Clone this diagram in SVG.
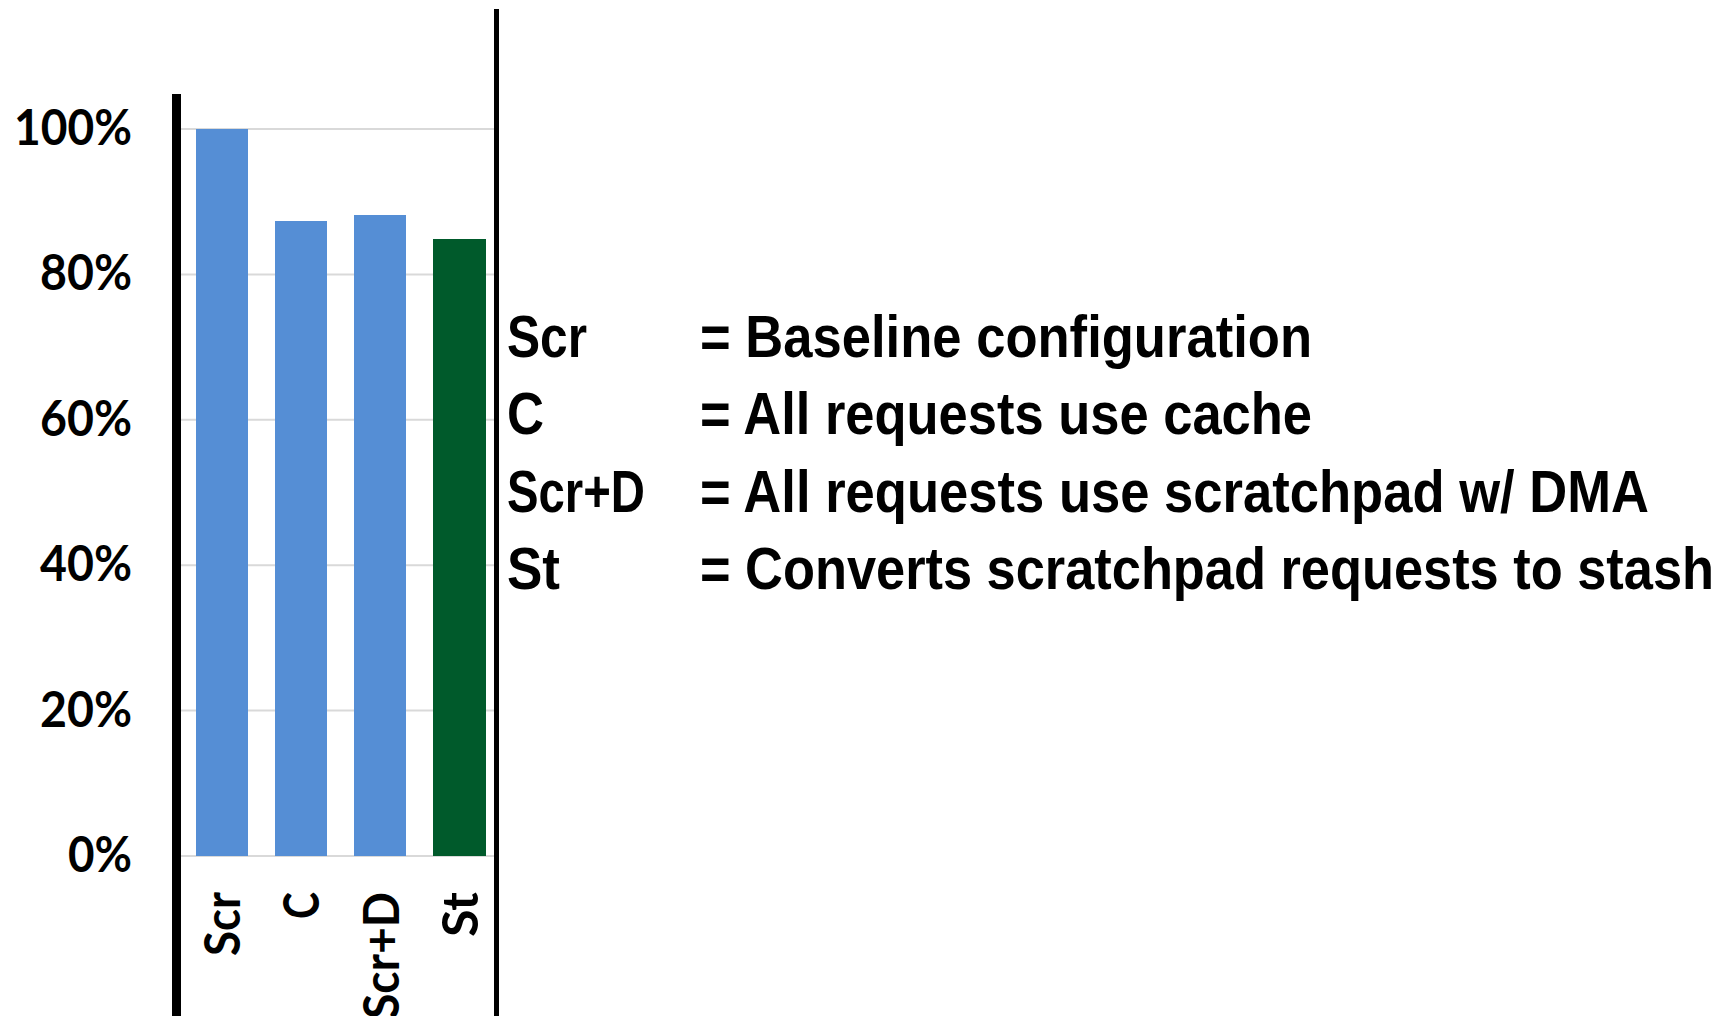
<svg xmlns="http://www.w3.org/2000/svg" width="1721" height="1016" viewBox="0 0 1721 1016">
<style>
.grid{stroke:#d9d9d9;stroke-width:2;fill:none}
.axis{fill:#000}
.blue{fill:#558ed5}
.green{fill:#005a2b}
.tick{font-family:Lato,"Open Sans","Liberation Sans",sans-serif;font-weight:700;font-size:49px;fill:#000}
.ylab{text-anchor:end}
.xlab{text-anchor:end}
.leg{font-family:"Liberation Sans Narrow","Liberation Sans",Arial,sans-serif;font-weight:700;font-size:60px;fill:#000}
</style>
<rect width="1721" height="1016" fill="#fff"/>
<g id="gridlines">
<line class="grid" x1="181" y1="129" x2="494" y2="129"/>
<line class="grid" x1="181" y1="274.4" x2="494" y2="274.4"/>
<line class="grid" x1="181" y1="419.8" x2="494" y2="419.8"/>
<line class="grid" x1="181" y1="565.2" x2="494" y2="565.2"/>
<line class="grid" x1="181" y1="710.6" x2="494" y2="710.6"/>
<line class="grid" x1="181" y1="856" x2="494" y2="856"/>
</g>
<g id="bars">
<rect id="bar-scr" class="blue" x="196" y="129" width="52" height="727"/>
<rect id="bar-c" class="blue" x="275" y="221" width="52" height="635"/>
<rect id="bar-scrd" class="blue" x="354" y="215" width="52" height="641"/>
<rect id="bar-st" class="green" x="433" y="239" width="53" height="617"/>
</g>
<g id="axes">
<rect class="axis" x="172" y="94" width="9" height="922"/>
<rect class="axis" x="494" y="9" width="5" height="1007"/>
</g>
<g id="y-labels" class="tick ylab">
<text x="132" y="145" textLength="118" lengthAdjust="spacingAndGlyphs">100%</text>
<text x="132" y="290.4" textLength="92" lengthAdjust="spacingAndGlyphs">80%</text>
<text x="132" y="435.8" textLength="92" lengthAdjust="spacingAndGlyphs">60%</text>
<text x="132" y="581.2" textLength="92" lengthAdjust="spacingAndGlyphs">40%</text>
<text x="132" y="726.6" textLength="92" lengthAdjust="spacingAndGlyphs">20%</text>
<text x="132" y="872" textLength="64" lengthAdjust="spacingAndGlyphs">0%</text>
</g>
<g id="x-labels" class="tick xlab">
<text transform="translate(240,892) rotate(-90)" textLength="64" lengthAdjust="spacingAndGlyphs">Scr</text>
<text transform="translate(319,892) rotate(-90)" textLength="27" lengthAdjust="spacingAndGlyphs">C</text>
<text transform="translate(399,892) rotate(-90)" textLength="127" lengthAdjust="spacingAndGlyphs">Scr+D</text>
<text transform="translate(478,892) rotate(-90)" textLength="45" lengthAdjust="spacingAndGlyphs">St</text>
</g>
<g id="legend" class="leg">
<g id="legend-scr">
<text x="507" y="357" textLength="80" lengthAdjust="spacingAndGlyphs">Scr</text>
<text x="700" y="357" textLength="612" lengthAdjust="spacingAndGlyphs">= Baseline configuration</text>
</g>
<g id="legend-c">
<text x="507" y="434" textLength="37" lengthAdjust="spacingAndGlyphs">C</text>
<text x="700" y="434" textLength="612" lengthAdjust="spacingAndGlyphs">= All requests use cache</text>
</g>
<g id="legend-scrd">
<text x="507" y="512" textLength="138" lengthAdjust="spacingAndGlyphs">Scr+D</text>
<text x="700" y="512" textLength="949" lengthAdjust="spacingAndGlyphs">= All requests use scratchpad w/ DMA</text>
</g>
<g id="legend-st">
<text x="507" y="589" textLength="53" lengthAdjust="spacingAndGlyphs">St</text>
<text x="700" y="589" textLength="1014" lengthAdjust="spacingAndGlyphs">= Converts scratchpad requests to stash</text>
</g>
</g>
</svg>
